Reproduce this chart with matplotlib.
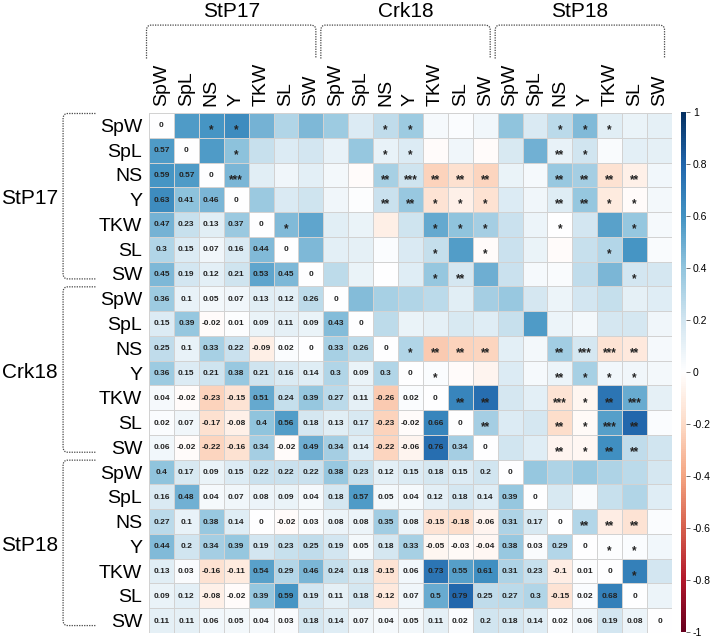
import numpy as np
import matplotlib.pyplot as plt
from matplotlib.colors import LinearSegmentedColormap, Normalize
from matplotlib.cm import ScalarMappable
from matplotlib.path import Path
from matplotlib.patches import PathPatch

plt.rcParams['font.family'] = ['Liberation Sans', 'DejaVu Sans']

traits = ['SpW', 'SpL', 'NS', 'Y', 'TKW', 'SL', 'SW']
groups = ['StP17', 'Crk18', 'StP18']
labels = traits * len(groups)

# lower triangle of the correlation matrix (row by row, left of diagonal)
lower = [
    [],
    [0.57],
    [0.59, 0.57],
    [0.63, 0.41, 0.46],
    [0.47, 0.23, 0.13, 0.37],
    [0.3, 0.15, 0.07, 0.16, 0.44],
    [0.45, 0.19, 0.12, 0.21, 0.53, 0.45],
    [0.36, 0.1, 0.05, 0.07, 0.13, 0.12, 0.26],
    [0.15, 0.39, -0.02, 0.01, 0.09, 0.11, 0.09, 0.43],
    [0.25, 0.1, 0.33, 0.22, -0.09, 0.02, 0, 0.33, 0.26],
    [0.36, 0.15, 0.21, 0.38, 0.21, 0.16, 0.14, 0.3, 0.09, 0.3],
    [0.04, -0.02, -0.23, -0.15, 0.51, 0.24, 0.39, 0.27, 0.11, -0.26, 0.02],
    [0.02, 0.07, -0.17, -0.08, 0.4, 0.56, 0.18, 0.13, 0.17, -0.23, -0.02, 0.66],
    [0.06, -0.02, -0.22, -0.16, 0.34, -0.02, 0.49, 0.34, 0.14, -0.22, -0.06, 0.76, 0.34],
    [0.4, 0.17, 0.09, 0.15, 0.22, 0.22, 0.22, 0.38, 0.23, 0.12, 0.15, 0.18, 0.15, 0.2],
    [0.16, 0.48, 0.04, 0.07, 0.08, 0.09, 0.04, 0.18, 0.57, 0.05, 0.04, 0.12, 0.18, 0.14, 0.39],
    [0.27, 0.1, 0.38, 0.14, 0, -0.02, 0.03, 0.08, 0.08, 0.35, 0.08, -0.15, -0.18, -0.06, 0.31, 0.17],
    [0.44, 0.2, 0.34, 0.39, 0.19, 0.23, 0.25, 0.19, 0.05, 0.18, 0.33, -0.05, -0.03, -0.04, 0.38, 0.03, 0.29],
    [0.13, 0.03, -0.16, -0.11, 0.54, 0.29, 0.46, 0.24, 0.18, -0.15, 0.06, 0.73, 0.55, 0.61, 0.31, 0.23, -0.1, 0.01],
    [0.09, 0.12, -0.08, -0.02, 0.39, 0.59, 0.19, 0.11, 0.18, -0.12, 0.07, 0.5, 0.79, 0.25, 0.27, 0.3, -0.15, 0.02, 0.68],
    [0.11, 0.11, 0.06, 0.05, 0.04, 0.03, 0.18, 0.14, 0.07, 0.04, 0.05, 0.11, 0.02, 0.2, 0.18, 0.14, 0.02, 0.06, 0.19, 0.08],
]

# significance stars in the upper triangle: row -> {column: stars}
stars = {
    0: {2: '*', 3: '*', 9: '*', 10: '*', 16: '*', 17: '*', 18: '*'},
    1: {3: '*', 9: '*', 10: '*', 16: '**', 17: '*'},
    2: {3: '***', 9: '**', 10: '***', 11: '**', 12: '**', 13: '**', 16: '**', 17: '**', 18: '**', 19: '**'},
    3: {9: '**', 10: '**', 11: '*', 12: '*', 13: '*', 16: '**', 17: '**', 18: '*', 19: '*'},
    4: {5: '*', 11: '*', 12: '*', 13: '*', 16: '*', 19: '*'},
    5: {11: '*', 13: '*', 18: '*'},
    6: {11: '*', 12: '**', 19: '*'},
    9: {10: '*', 11: '**', 12: '**', 13: '**', 16: '**', 17: '***', 18: '***', 19: '**'},
    10: {11: '*', 16: '**', 17: '*', 18: '*', 19: '*'},
    11: {12: '**', 13: '**', 16: '***', 17: '*', 18: '**', 19: '***'},
    12: {13: '**', 16: '**', 17: '*', 18: '***', 19: '**'},
    13: {16: '**', 17: '*', 18: '**', 19: '**'},
    16: {17: '**', 18: '**', 19: '**'},
    17: {18: '*', 19: '*'},
    18: {19: '*'},
}

n = len(labels)
corr = np.zeros((n, n))
for i, row in enumerate(lower):
    for j, v in enumerate(row):
        corr[i, j] = v
        corr[j, i] = v

cmap = LinearSegmentedColormap.from_list('corrplot', [
    '#67001F', '#B2182B', '#D6604D', '#F4A582', '#FDDBC7', '#FFFFFF',
    '#D1E5F0', '#92C5DE', '#4393C3', '#2166AC', '#053061'])
norm = Normalize(-1, 1)

fig = plt.figure(figsize=(7.14, 6.39), dpi=100)
ax = fig.add_axes([149 / 714, 6 / 639, 523 / 714, 520 / 639])
ax.pcolormesh(corr, cmap=cmap, norm=norm, edgecolors='#d2d2d2', linewidth=0.7)
ax.set_xlim(0, n)
ax.set_ylim(n, 0)

txt = '#222222'
for i in range(n):
    for j in range(n):
        if j < i:
            ax.text(j + 0.5, i + 0.52, f'{corr[i, j]:g}', ha='center', va='center',
                    fontsize=6, fontweight='bold', color=txt)
        elif j == i:
            ax.text(j + 0.5, i + 0.52, '0', ha='center', va='center',
                    fontsize=6, fontweight='bold', color=txt)
        else:
            s = stars.get(i, {}).get(j, '')
            if s:
                ax.text(j + 0.5, i + 0.7, s, ha='center', va='center',
                        fontsize=8.5, fontweight='bold', color=txt)

ax.set_xticks(np.arange(n) + 0.5)
ax.set_xticklabels(labels, rotation=90)
ax.set_yticks(np.arange(n) + 0.5)
ax.set_yticklabels(labels)
ax.xaxis.tick_top()
ax.tick_params(length=0, labelsize=14, pad=5)
for sp in ax.spines.values():
    sp.set_visible(False)


def bracket(verts):
    codes = [Path.MOVETO, Path.LINETO, Path.CURVE3, Path.CURVE3, Path.LINETO,
             Path.CURVE3, Path.CURVE3, Path.LINETO]
    ax.add_patch(PathPatch(Path(verts, codes), fill=False, linestyle=(0, (1, 1)),
                           linewidth=0.9, edgecolor='#444444', clip_on=False))


r = 0.2
for g, name in enumerate(groups):
    s0 = g * len(traits)
    s1 = s0 + len(traits)
    # top brackets
    x0, x1 = s0 - 0.1, s1 - 0.3
    yl, ya = -3.55, -2.2
    bracket([(x0, ya), (x0, yl + r), (x0, yl), (x0 + r, yl), (x1 - r, yl),
             (x1, yl), (x1, yl + r), (x1, ya)])
    ax.text((x0 + x1) / 2, -4.1, name, ha='center', va='center', fontsize=15, clip_on=False)
    # left brackets
    y0, y1 = s0 + 0.02, s1 - 0.3
    xl, xa = -3.45, -2.15
    bracket([(xa, y0), (xl + r, y0), (xl, y0), (xl, y0 + r), (xl, y1 - r),
             (xl, y1), (xl + r, y1), (xa, y1)])
    ax.text(-4.8, (y0 + y1) / 2 + 0.1, name, ha='center', va='center', fontsize=15, clip_on=False)

cax = fig.add_axes([681 / 714, 7 / 639, 5 / 714, 520 / 639])
cb = fig.colorbar(ScalarMappable(norm=norm, cmap=cmap), cax=cax)
ticks = np.round(np.linspace(-1, 1, 11), 1)
cb.set_ticks(ticks)
cb.set_ticklabels([f'{t:g}' for t in ticks])
cb.outline.set_visible(False)
cax.tick_params(labelsize=7.5, length=3, width=0.6, color='#555555', pad=2)

fig.savefig('out.png', dpi=100)
